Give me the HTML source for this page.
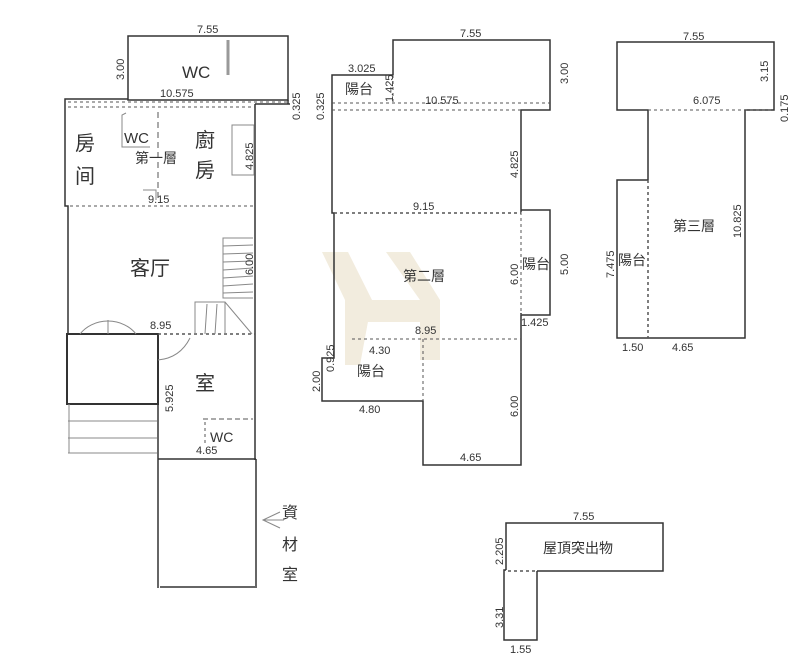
<!DOCTYPE html>
<html><head><meta charset="utf-8">
<style>
html,body{margin:0;padding:0;background:#fff;}
svg{display:block;}
text{font-family:"Liberation Sans","Noto Sans CJK TC",sans-serif;fill:#333;}
.h{fill:#777;font-family:"Liberation Sans","Noto Sans CJK TC",sans-serif;}
</style></head><body>
<svg width="800" height="662" viewBox="0 0 800 662" xmlns="http://www.w3.org/2000/svg">
<g stroke="#333" stroke-width="1.5" fill="none">
<!-- ===== Plan 1 ===== -->
<rect x="128" y="36" width="160" height="64"/>
<line x1="288" y1="100" x2="288" y2="104"/>
<line x1="255" y1="104" x2="290" y2="104"/>
<polyline points="128,99 65,99 65,206 68,206 68,334"/>
<line x1="255" y1="104" x2="255" y2="460"/>
<rect x="67" y="334" width="91" height="70" stroke-width="2"/>
<line x1="158" y1="404" x2="158" y2="588"/>
<line x1="158" y1="459" x2="256" y2="459"/>
<line x1="256" y1="459" x2="256" y2="588"/>
<line x1="160" y1="587" x2="255" y2="587"/>
</g>
<g stroke="#555" stroke-width="1" fill="none" stroke-dasharray="3,3">
<line x1="68" y1="102" x2="288" y2="102"/>
<line x1="68" y1="107" x2="255" y2="107"/>
<line x1="70" y1="206" x2="255" y2="206"/>
<line x1="158" y1="334" x2="255" y2="334" stroke-width="1.5"/>
<line x1="158" y1="112" x2="158" y2="200" stroke-dasharray="6,4"/>
<line x1="203" y1="419" x2="253" y2="419" stroke-dasharray="5,3"/>
<line x1="205" y1="422" x2="205" y2="445"/>
</g>
<g stroke="#888" stroke-width="1" fill="none">
<polyline points="126,113 122,115 122,147 150,147"/>
<line x1="228" y1="40" x2="228" y2="75" stroke="#999" stroke-width="3"/>
<rect x="232" y="125" width="22" height="50"/>
<polyline points="143,190 156,190 156,200"/>
<!-- stairs upper -->
<polyline points="253,238 223,238 223,298 253,298"/>
<line x1="223" y1="246" x2="253" y2="245"/><line x1="223" y1="254" x2="253" y2="253"/>
<line x1="223" y1="262" x2="253" y2="261"/><line x1="223" y1="270" x2="253" y2="268"/>
<line x1="223" y1="278" x2="253" y2="276"/><line x1="223" y1="286" x2="253" y2="284"/>
<line x1="223" y1="293" x2="253" y2="292"/>
<!-- stairs lower -->
<polyline points="195,334 195,302 225,302 252,334"/>
<line x1="207" y1="304" x2="205" y2="334"/><line x1="217" y1="304" x2="215" y2="334"/><line x1="225" y1="302" x2="225" y2="334"/>
<!-- door arcs -->
<path d="M80,334 A34,30 0 0 1 136,334"/>
<line x1="108" y1="320" x2="108" y2="334"/>
<path d="M158,360 Q180,358 190,338"/>
<!-- entry stairs -->
<line x1="69" y1="404" x2="69" y2="453"/>
<line x1="68" y1="421" x2="157" y2="421"/>
<line x1="68" y1="438" x2="157" y2="438"/>
<line x1="68" y1="453" x2="157" y2="453"/>
<!-- arrow -->
<polyline points="280,512 263,520 280,528"/>
<line x1="263" y1="520" x2="284" y2="520"/>
</g>
<g font-size="11" >
<text x="197" y="33">7.55</text>
<text x="124" y="80" transform="rotate(-90 124 80)">3.00</text>
<text x="160" y="97">10.575</text>
<text x="300" y="120" transform="rotate(-90 300 120)">0.325</text>
<text x="253" y="170" transform="rotate(-90 253 170)">4.825</text>
<text x="148" y="203">9.15</text>
<text x="253" y="275" transform="rotate(-90 253 275)">6.00</text>
<text x="150" y="329">8.95</text>
<text x="173" y="412" transform="rotate(-90 173 412)">5.925</text>
<text x="196" y="454">4.65</text>
</g>
<g class="h">
<text x="182" y="78" font-size="17" fill="#888">WC</text>
<text x="124" y="143" font-size="15">WC</text>
<text x="75" y="150" font-size="20">房</text>
<text x="75" y="183" font-size="20">间</text>
<text x="195" y="147" font-size="20">廚</text>
<text x="195" y="177" font-size="20">房</text>
<text x="130" y="275" font-size="20">客厅</text>
<text x="195" y="390" font-size="20">室</text>
<text x="210" y="442" font-size="14">WC</text>
<text x="282" y="518" font-size="16">資</text>
<text x="282" y="550" font-size="16">材</text>
<text x="282" y="580" font-size="16">室</text>
</g>
<text x="135" y="163" font-size="14">第一層</text>

<!-- ===== Plan 2 ===== -->
<g fill="#efe8d6" opacity="0.8">
<polygon points="322,252 348,252 372,300 360,365 345,365 345,300"/>
<polygon points="386,252 410,252 440,300 440,360 420,360 420,300"/>
<rect x="355" y="300" width="75" height="22"/>
</g>
<g stroke="#333" stroke-width="1.5" fill="none">
<polyline points="393,75 393,40 550,40 550,110 521,110 521,212"/>
<polyline points="393,75 332,75 332,213 334,213 334,358 322,358 322,401 423,401 423,465 521,465 521,313"/>
<polyline points="521,210 550,210 550,315 521,315"/>
</g>
<g stroke="#555" stroke-width="1" fill="none" stroke-dasharray="3,3">
<line x1="332" y1="103" x2="550" y2="103"/>
<line x1="332" y1="110" x2="521" y2="110"/>
<line x1="393" y1="75" x2="393" y2="103"/>
<line x1="334" y1="213" x2="521" y2="213" stroke-width="1.5"/>
<line x1="521" y1="212" x2="521" y2="315"/>
<line x1="352" y1="339" x2="521" y2="339"/>
<line x1="423" y1="339" x2="423" y2="401"/>
</g>
<g font-size="11">
<text x="460" y="37">7.55</text>
<text x="348" y="72">3.025</text>
<text x="393" y="102" transform="rotate(-90 393 102)">1.425</text>
<text x="324" y="120" transform="rotate(-90 324 120)">0.325</text>
<text x="425" y="104">10.575</text>
<text x="568" y="84" transform="rotate(-90 568 84)">3.00</text>
<text x="518" y="178" transform="rotate(-90 518 178)">4.825</text>
<text x="413" y="210">9.15</text>
<text x="518" y="285" transform="rotate(-90 518 285)">6.00</text>
<text x="568" y="275" transform="rotate(-90 568 275)">5.00</text>
<text x="521" y="326">1.425</text>
<text x="415" y="334">8.95</text>
<text x="334" y="372" transform="rotate(-90 334 372)">0.925</text>
<text x="369" y="354">4.30</text>
<text x="320" y="392" transform="rotate(-90 320 392)">2.00</text>
<text x="359" y="413">4.80</text>
<text x="518" y="417" transform="rotate(-90 518 417)">6.00</text>
<text x="460" y="461">4.65</text>
</g>
<g font-size="14">
<text x="345" y="94">陽台</text>
<text x="522" y="269">陽台</text>
<text x="403" y="281">第二層</text>
<text x="357" y="376">陽台</text>
</g>

<!-- ===== Plan 3 ===== -->
<g stroke="#333" stroke-width="1.5" fill="none">
<polyline points="648,180 648,110 617,110 617,42 774,42 774,110 745,110 745,338 617,338 617,180 648,180"/>
</g>
<g stroke="#555" stroke-width="1" fill="none" stroke-dasharray="3,3">
<line x1="648" y1="110" x2="774" y2="110"/>
<line x1="648" y1="180" x2="648" y2="338" stroke-width="1.5"/>
</g>
<g font-size="11">
<text x="683" y="40">7.55</text>
<text x="768" y="82" transform="rotate(-90 768 82)">3.15</text>
<text x="693" y="104">6.075</text>
<text x="788" y="122" transform="rotate(-90 788 122)">0.175</text>
<text x="741" y="238" transform="rotate(-90 741 238)">10.825</text>
<text x="614" y="278" transform="rotate(-90 614 278)">7.475</text>
<text x="622" y="351">1.50</text>
<text x="672" y="351">4.65</text>
</g>
<g font-size="14">
<text x="673" y="231">第三層</text>
<text x="618" y="265">陽台</text>
</g>

<!-- ===== Roof ===== -->
<g stroke="#333" stroke-width="1.5" fill="none">
<polyline points="537,571 663,571 663,523 506,523 506,570"/>
<polyline points="506,570 504,570 504,640 537,640 537,571"/>
</g>
<line x1="508" y1="571" x2="535" y2="571" stroke="#555" stroke-width="1.5" stroke-dasharray="3,3"/>
<g font-size="11">
<text x="573" y="520">7.55</text>
<text x="503" y="565" transform="rotate(-90 503 565)">2.205</text>
<text x="503" y="628" transform="rotate(-90 503 628)">3.31</text>
<text x="510" y="653">1.55</text>
</g>
<text x="543" y="553" font-size="14">屋頂突出物</text>
</svg>
</body></html>
